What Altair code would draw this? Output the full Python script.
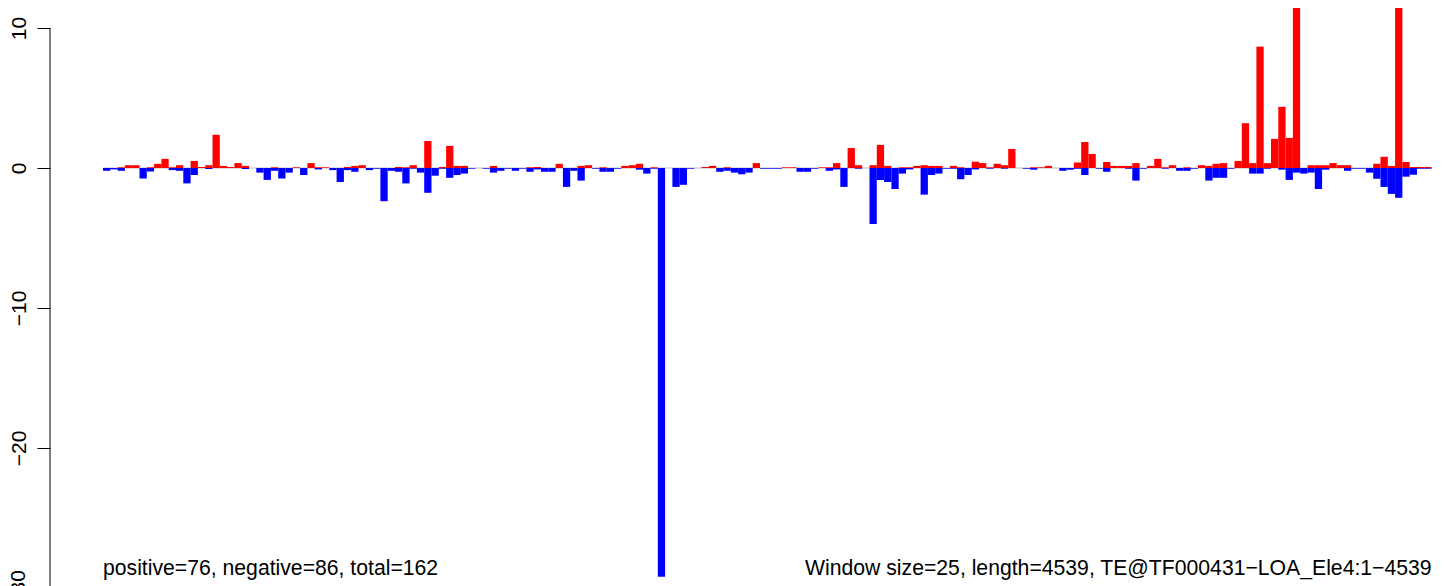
import altair as alt
import pandas as pd

WINDOW = 25
LENGTH = 4539

# positive (red) and negative (blue) signal per 25-bp window
pos = [0, 0, 0.05, 0.2, 0.2, 0, 0.05, 0.3, 0.65, 0.05,
       0.2, 0, 0.5, 0.07, 0.2, 2.37, 0.15, 0.07, 0.35, 0.15,
       0, 0, 0, 0.05, 0, 0, 0.05, 0, 0.35, 0.05,
       0.05, 0, 0, 0.07, 0.15, 0.2, 0, 0, 0, 0,
       0.07, 0.05, 0.2, 0, 1.93, 0, 0.07, 1.58, 0.15, 0.15,
       0, 0, 0, 0.15, 0, 0, 0, 0, 0.05, 0.07,
       0, 0, 0.3, 0, 0, 0.15, 0.2, 0, 0.05, 0,
       0, 0.15, 0.2, 0.3, 0, 0.05, 0, 0, 0, 0,
       0, 0, 0.07, 0.15, 0, 0.05, 0, 0, 0, 0.35,
       0, 0, 0, 0.05, 0.05, 0, 0, 0, 0.05, 0.05,
       0.35, 0, 1.43, 0.2, 0, 0.2, 1.65, 0.15, 0, 0.05,
       0.05, 0.15, 0.2, 0.15, 0.15, 0, 0.15, 0.05, 0, 0.45,
       0.35, 0.05, 0.3, 0.2, 1.36, 0, 0, 0.05, 0.05, 0.15,
       0, 0, 0, 0.4, 1.86, 1.0, 0, 0.43, 0.15, 0.15,
       0.15, 0.35, 0, 0.15, 0.65, 0.05, 0.2, 0, 0.05, 0,
       0.2, 0.15, 0.3, 0.35, 0, 0.5, 3.2, 0.35, 8.67, 0.35,
       2.08, 4.37, 2.15, 14.0, 0, 0.2, 0.2, 0.2, 0.35, 0.2,
       0.2, 0, 0, 0, 0.3, 0.8, 0.15, 14.0, 0.43, 0.07,
       0.07, 0.07]
neg = [-0.2, -0.1, -0.2, 0, 0, -0.75, -0.25, 0, 0, -0.15,
       -0.2, -1.1, -0.5, 0, -0.07, 0, 0, 0, 0, -0.07,
       0, -0.33, -0.85, -0.2, -0.75, -0.33, 0, -0.5, 0, -0.1,
       0, -0.15, -1.0, -0.15, -0.27, 0, -0.15, -0.05, -2.37, -0.2,
       -0.27, -1.1, -0.05, -0.33, -1.77, -0.55, -0.05, -0.7, -0.5, -0.4,
       -0.05, 0, -0.05, -0.33, -0.2, -0.05, -0.2, -0.05, -0.27, -0.1,
       -0.27, -0.27, 0, -1.35, -0.2, -0.9, 0, -0.05, -0.27, -0.27,
       -0.05, 0, 0, -0.12, -0.4, -0.05, -29.2, 0, -1.35, -1.2,
       -0.05, 0, 0, 0, -0.27, -0.2, -0.33, -0.45, -0.33, 0,
       -0.05, -0.05, -0.05, 0, 0, -0.27, -0.27, -0.05, 0, -0.2,
       -0.1, -1.35, 0, -0.05, 0, -4.0, -0.86, -1.0, -1.5, -0.4,
       -0.1, 0, -1.9, -0.5, -0.4, -0.05, -0.05, -0.8, -0.5, -0.1,
       0, -0.05, 0, -0.05, 0, 0, -0.05, -0.12, 0, 0,
       0, -0.2, -0.12, -0.05, -0.5, 0, -0.05, -0.27, 0, 0,
       -0.05, -0.9, -0.05, 0, 0, -0.05, 0, -0.2, -0.2, -0.05,
       0, -0.9, -0.7, -0.7, -0.05, 0, 0, -0.4, -0.4, -0.05,
       0, -0.12, -0.85, -0.33, -0.4, -0.33, -1.5, -0.12, 0, 0,
       -0.2, -0.05, -0.05, -0.33, -0.77, -1.35, -1.85, -2.13, -0.62, -0.48,
       -0.05, -0.05]

y_ticks = [10, 0, -10, -20]
bottom_tick = -30
left_note = "positive=76, negative=86, total=162"
right_note = "Window size=25, length=4539, TE@TF000431\u2212LOA_Ele4:1\u22124539"

rows = []
for i, (p, n) in enumerate(zip(pos, neg)):
    s = i * WINDOW
    if p:
        rows.append(dict(start=s, end=s + WINDOW, value=p, zero=0, sign="pos"))
    if n:
        rows.append(dict(start=s, end=s + WINDOW, value=n, zero=0, sign="neg"))
bars_df = pd.DataFrame(rows)

n_win = len(pos)
zero_df = pd.DataFrame([dict(start=0, end=n_win * WINDOW, v=0)])
axis_df = pd.DataFrame([dict(a=y_ticks[0], b=bottom_tick)])
low_df = pd.DataFrame([dict(v=bottom_tick, t="\u221230")])
left_df = pd.DataFrame([dict(x=0, y=-29.07, t=left_note)])
right_df = pd.DataFrame([dict(x=n_win * WINDOW, y=-29.07, t=right_note)])

xscale = alt.Scale(domain=[-181.5, 4565.1], nice=False, zero=False)
yscale = alt.Scale(domain=[-29.857, 11.4286], nice=False, zero=False)

FONT = "Liberation Sans"

zero_line = alt.Chart(zero_df).mark_rule(color="#bebebe", strokeWidth=1).encode(
    x=alt.X("start:Q", scale=xscale, axis=None),
    x2="end:Q",
    y=alt.Y("v:Q", scale=yscale, title=None),
)

bars = alt.Chart(bars_df).mark_rect(clip=True).encode(
    x=alt.X("start:Q", scale=xscale, axis=None),
    x2="end:Q",
    y=alt.Y("value:Q", scale=yscale, title=None,
            axis=alt.Axis(values=y_ticks, grid=False, domain=False, ticks=True,
                          tickSize=13, tickColor="black", tickWidth=1,
                          labelFont=FONT, labelFontSize=21, labelColor="black",
                          labelAngle=270, labelAlign="center",
                          labelBaseline="alphabetic", labelPadding=12)),
    y2="zero:Q",
    color=alt.Color("sign:N", scale=alt.Scale(domain=["pos", "neg"],
                                              range=["#ff0000", "#0000ff"]),
                    legend=None),
)

axis_line = alt.Chart(axis_df).mark_rule(color="black", strokeWidth=1).encode(
    x=alt.value(0),
    y=alt.Y("a:Q", scale=yscale, title=None),
    y2="b:Q",
)

low_label = alt.Chart(low_df).mark_text(
    align="center", baseline="alphabetic", angle=270, font=FONT, fontSize=21,
    color="black"
).encode(
    x=alt.value(-25),
    y=alt.Y("v:Q", scale=yscale, title=None),
    text="t:N",
)

left_text = alt.Chart(left_df).mark_text(
    align="left", baseline="alphabetic", font=FONT, fontSize=21.2, color="black"
).encode(
    x=alt.X("x:Q", scale=xscale, axis=None),
    y=alt.Y("y:Q", scale=yscale, title=None),
    text="t:N",
)

right_text = alt.Chart(right_df).mark_text(
    align="right", baseline="alphabetic", font=FONT, fontSize=21.2, color="black"
).encode(
    x=alt.X("x:Q", scale=xscale, axis=None),
    y=alt.Y("y:Q", scale=yscale, title=None),
    text="t:N",
)

chart = alt.layer(zero_line, bars, axis_line, low_label, left_text, right_text).properties(
    width=1386,
    height=578,
    background="white",
    autosize=alt.AutoSizeParams(type="none"),
    padding={"left": 42, "top": 0, "right": 0, "bottom": 0},
).configure_view(stroke=None)

chart.save("out.html", embed_options={"renderer": "svg", "actions": False})
